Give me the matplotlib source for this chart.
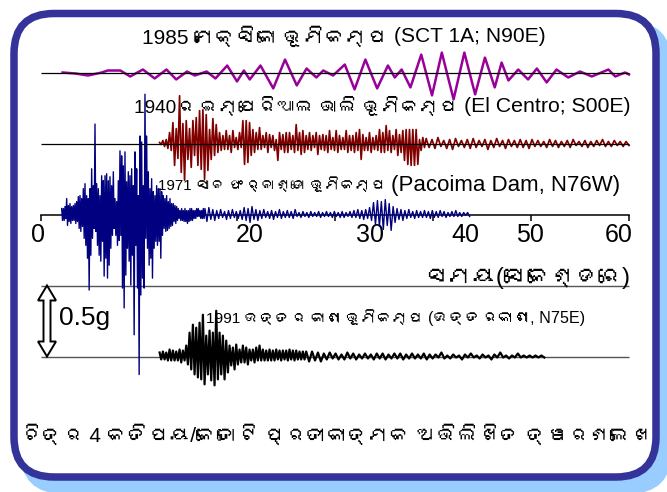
import numpy as np
import matplotlib
matplotlib.use("Agg")
import matplotlib.pyplot as plt
from matplotlib.patches import FancyBboxPatch, Polygon
from matplotlib import font_manager
from matplotlib.ft2font import FT2Font

# ---------------- data (accelerations in milli-g, times in s) ----------------
mexico_t = [2.2, 3.5, 4.8, 6.2, 6.8, 8.1, 9.1, 10.4, 11.6, 12.8, 13.8, 14.9, 15.7, 16.9,
            17.8, 19.0, 20.0, 20.7, 21.3, 22.4, 23.7, 24.9, 26.1, 27.1, 28.1, 28.8, 29.8,
            31.0, 32.0, 33.1, 34.3, 35.4, 36.1, 36.8, 37.7, 38.8, 39.9, 40.9, 42.1, 43.2,
            44.3, 45.3, 46.3, 47.0, 47.7, 48.7, 49.7, 50.6, 51.6, 52.6, 53.8, 55.0, 56.2,
            57.9, 58.6, 59.6, 60.0]
mexico_mg = [0, -7, -21, 0, 14, 14, -28, 21, -42, 21, -49, 7, -21, 7, -42, 49, -63, 14,
             -49, 49, -112, 91, -91, 28, -35, 14, -21, 56, -119, 91, -112, 49, -35, 21,
             -105, 126, -161, 140, -189, 140, -154, 105, -105, 70, -56, 21, -49, 28, -70,
             21, -35, 7, -28, 21, -28, 0, -14]

elcentro_t0 = 12.1
elcentro_dt = [0.17, 0.3]
elcentro_strong_mg = [
    7, -7, 21, -21, 28, -35, 77, -49, 147, -154, 105, -105, 336, -203, 140, -259,
    161, -112, 105, -168, 161, -84, 182, -154, 231, -182, 238, -252, 203, -189, 98, -112,
    175, -84, 133, -63, 77, -49, 56, -42, 91, -42, 56, -63, 91, -28, 42, -42,
    77, -28, 161, -147, 161, -133, 147, -84, 98, -63, 77, -42, 112, -42, 56, -28,
    77, -63, 63, -28, 56, -49, 28, -119, 77, -42, 63, -63, 77, -63, 77, -42,
    56, -63, 133, -49, 77, -77, 91, -63, 56, -42, 77, -49, 56, -28, 77, -77,
    56, -42, 63, -49, 56, -63, 91, -42, 42, -49, 91, -63, 56, -42, 42, -42,
    91, -63, 56, -49, 56, -63, 77, -49, 98, -112, 63, -49, 42, -49, 77, -63,
    42, -42, 56, -49, 98, -63, 77, -63, 126, -49, 91, -63, 56, -42,
    98, -84, 63, -63, 91, -119, 98, -147, 98, -154, 98, -154, 98, -147, 28, -49, 42, -28]
elcentro_tail_mg = [
    35, -28, 28, -35, 42, -21, 21, -35, 28, -42, 35, -21, 21, -28, 28, -35, 35, -28, 21, -21,
    28, -42, 21, -28, 35, -21, 21, -35, 28, -21, 21, -28, 28, -28, 21, -35, 28, -21, 21, -21,
    14, -28, 28, -21, 21, -28, 14, -21, 21, -28, 28, -14, 14, -21, 21, -28, 14, -21, 21, -14,
    28, -21, 14, -21, 21, -14, 14, -21, 14, -14]

pacoima_t0 = 2.11
pacoima_dt = [0.085, 0.2]
pacoima_strong_mg = [
    42, -42, 42, -42, 56, -28, 112, -77, 63, -49, 77, -63, 56, -42, 63, -42, 77, -63, 91, -49,
    126, -98, 133, -119, 112, -84, 182, -168, 217, -217, 133, -308, 112, -532, 182, -287,
    322, -168, 203, -98, 637, -119, 217, -217, 182, -287, 133, -329, 273, -189, 238, -434,
    273, -308, 287, -448, 238, -357, 266, -238, 203, -147, 301, -98, 112, -147, 91, -217,
    238, -182, 448, -147, 413, -518, 343, -658, 441, -427, 231, -238, 301, -329, 273, -497,
    322, -287, 203, -847, 441, -217, 322, -518, 133, -1127, 553, -567, 511, -448, 203, -518,
    847, -168, 553, -238, 301, -357, 182, -308, 252, -448, 161, -238, 133, -189, 203, -217,
    182, -189, 182, -308, 161, -147, 133, -98, 112, -119, 133, -112, 91, -98, 112, -84,
    77, -77, 77, -49, 63, -63, 56, -42, 42, -28, 28, -42, 42, -42, 28, -49, 42, -49, 28, -63,
    28, -49, 42, -42, 42, -42, 28, -28, 28, -28, 42, -14, 42, -14, 28, -28, 28, -28, 42, -28]
pacoima_tail_mg = [
    42, -49, 49, -35, 35, -42, 28, -28, 35, -21, 21, -35, 28, -28, 35, -21, 21, -28, 28, -35,
    49, -42, 42, -56, 56, -35, 35, -42, 28, -28, 35, -21, 21, -28, 28, -35, 21, -21, 35, -28,
    21, -21, 28, -21, 21, -28, 35, -14, 14, -21, 21, -14, 14, -21, 21, -14, 14, -14, 21, -21,
    14, -14, 21, -14, 14, -21, 21, -14, 14, -21, 21, -21, 14, -14, 21, -21, 28, -21, 35, -28,
    28, -35, 35, -28, 49, -42, 84, -70, 98, -84, 91, -105, 105, -77, 77, -112, 56, -56, 42, -35,
    35, -42, 28, -28, 35, -21, 21, -28, 28, -21, 21, -21, 28, -21, 21, -28, 28, -21, 21, -21,
    28, -14, 21, -21, 14, -14, 21, -14, 28, -14, 14, -14, 14, -7, 14, -14]

uttarkashi_t0 = 12.1
uttarkashi_dt = [0.17, 0.3]
uttarkashi_strong_mg = [
    28, -21, 35, -21, 28, -28, 49, -28, 42, -28, 35, -28, 49, -42, 42, -28, 77, -56, 168, -91,
    224, -126, 203, -147, 238, -161, 294, -196, 147, -126, 182, -168, 168, -203, 322, -161,
    168, -126, 147, -161, 112, -112, 77, -63, 63, -91, 84, -56, 49, -42, 77, -42, 63, -56,
    49, -28, 49, -42, 63, -28, 77, -28, 49, -28, 42, -28, 49, -28, 42, -28, 49, -21, 42, -28,
    42, -21, 42, -28, 49, -21, 42, -28, 42, -21, 35, -21, 35, -21]
uttarkashi_tail_mg = [
    35, -35, 35, -28, 28, -35, 21, -21, 28, -14, 21, -21, 14, -21, 28, -14, 21, -21, 14, -14,
    21, -14, 14, -21, 21, -14, 21, -21, 14, -14, 21, -14, 21, -21, 14, -14, 21, -14, 14, -14,
    21, -21, 14, -14, 14, -7, 28, -14, 7, -14, 14, -7, 7, -21, 14, -7, 21, -7, 7, -14,
    14, -7, 7, -21, 14, -7, 28, -7, 7, -14, 7, -7, 21, -7, 7, -7, 7, -7, 7, -7, 7, -7]

xtick_labels = ["0", "20", "30", "40", "50", "60"]
scale_bar_g = 0.5

label_mexico = ["1985 ମେକ୍ସିକୋ ଭୂମିକମ୍ପ", "(SCT 1A; N90E)"]
label_elcentro = ["1940ର ଇମ୍ପେରିଆଲ ଭାଲି ଭୂମିକମ୍ପ", "(El Centro; S00E)"]
label_pacoima = ["1971 ସାନ ଫର୍ନାଣ୍ଡୋ ଭୂମିକମ୍ପ", "(Pacoima Dam, N76W)"]
label_uttarkashi = ["1991 ଉତ୍ତର କାଶୀ ଭୂମିକମ୍ପ", "(ଉତ୍ତରକାଶୀ, N75E)"]
label_time = "ସମୟ(ସେକେଣ୍ଡରେ)"
label_scale = "0.5g"
caption = "ଚିତ୍ର 4 କତିପୟ/କେତୋଟି ପ୍ରତୀକାତ୍ମକ ଅଭିଲିଖିତ ତ୍ୱରଣଲେଖ"


# ---------------- fonts ----------------
def find_odia_font():
    for f in font_manager.fontManager.ttflist:
        try:
            if 0x0B2E in FT2Font(f.fname).get_charmap():
                return f.name
        except Exception:
            pass
    return None


odia = find_odia_font()
families = ["Liberation Sans"] + ([odia] if odia else []) + ["DejaVu Sans"]
plt.rcParams["font.family"] = families


def build(t0, dts, segs):
    t, v = [], []
    cur = t0
    for dt, seg in zip(dts, segs):
        for val in seg:
            t.append(cur)
            v.append(val / 1000.0)
            cur += dt
    return np.array(t), np.array(v)


elc_t, elc_v = build(elcentro_t0, elcentro_dt, [elcentro_strong_mg, elcentro_tail_mg])
pac_t, pac_v = build(pacoima_t0, pacoima_dt, [pacoima_strong_mg, pacoima_tail_mg])
utt_t, utt_v = build(uttarkashi_t0, uttarkashi_dt, [uttarkashi_strong_mg, uttarkashi_tail_mg])
mex_t = np.array(mexico_t)
mex_v = np.array(mexico_mg) / 1000.0

# ---------------- figure ----------------
W, H = 667, 492
fig = plt.figure(figsize=(W / 100, H / 100), dpi=100)
renderer = fig.canvas.get_renderer()

bg = fig.add_axes([0, 0, 1, 1])
bg.set_xlim(0, W)
bg.set_ylim(H, 0)
bg.axis("off")
shadow = FancyBboxPatch((20, 21), 652, 473, boxstyle="round,pad=0,rounding_size=44",
                        facecolor="#99ccff", edgecolor="none", zorder=0)
frame = FancyBboxPatch((14, 13.5), 642, 463.5, boxstyle="round,pad=0,rounding_size=40",
                       facecolor="white", edgecolor="#333399", linewidth=5.4, zorder=1)
bg.add_patch(shadow)
bg.add_patch(frame)

# data axes: 9.8 px per second, 142 px per g
X0PX, PXS = 41.0, 9.8
Y0PX, PXG = 214.5, 142.0
ax = fig.add_axes([0, 0, 1, 1])
ax.patch.set_visible(False)
ax.set_xlim(-X0PX / PXS, (W - X0PX) / PXS)
ax.set_ylim((Y0PX - H) / PXG, Y0PX / PXG)


def px2x(px):
    return (px - X0PX) / PXS


def py2y(py):
    return (Y0PX - py) / PXG


MEX_OFF, ELC_OFF, PAC_OFF, UTT_OFF = 1.0, 0.5, 0.0, -1.0

for sp in ["top", "right", "left"]:
    ax.spines[sp].set_visible(False)
ax.spines["bottom"].set_position(("data", PAC_OFF))
ax.spines["bottom"].set_bounds(0, 60)
ax.spines["bottom"].set_linewidth(1.1)
ax.set_yticks([])
label_pos = [-0.3, 21.3, 33.6, 43.3, 49.9, 58.9]
ax.set_xticks(label_pos)
ax.set_xticklabels(xtick_labels)
ax.set_xticks(np.arange(0, 61, 10), minor=True)
ax.tick_params(axis="x", which="major", length=0, pad=6.0, labelsize=18)
ax.tick_params(axis="x", which="minor", length=4.3, width=1.1, direction="out")

# gray reference lines for the bottom record / scale
ax.hlines([UTT_OFF + scale_bar_g, UTT_OFF], 0, 60, colors="#555555", linewidth=1.0, zorder=1)

# traces
ax.plot(mex_t, MEX_OFF + mex_v, color="#990099", linewidth=1.8, zorder=3)
ax.plot(elc_t, ELC_OFF + elc_v, color="#800000", linewidth=1.25, zorder=3)
ax.plot(pac_t, PAC_OFF + pac_v, color="#000080", linewidth=1.0, zorder=3)
ax.plot(utt_t, UTT_OFF + utt_v, color="black", linewidth=1.6, zorder=3)

# black baselines on top of upper two records
ax.hlines([MEX_OFF, ELC_OFF], 0, 60, colors="black", linewidth=0.9, zorder=4)


def fit_text(s, left_px, right_px, cy_px, max_size, anchor="left", stretch=1.0):
    """Place text anchored at one end of a reference span, shrinking the font so its
    width stays within stretch * span."""
    x = left_px if anchor == "left" else right_px
    t = ax.text(px2x(x), py2y(cy_px), s, fontsize=max_size, ha=anchor,
                va="center", zorder=5)
    target = (right_px - left_px) * stretch
    for _ in range(3):
        w = t.get_window_extent(renderer).width
        if w <= target * 1.01:
            break
        t.set_fontsize(t.get_fontsize() * target / w)
    return t


# labels (pixel spans)
fit_text(label_mexico[0], 208, 388, 37, 15, anchor="right", stretch=1.4)
fit_text(label_mexico[1], 394, 545, 37, 15.5)
fit_text(label_elcentro[0], 208, 458, 106, 15, anchor="right", stretch=1.3)
fit_text(label_elcentro[1], 464, 630, 106, 15.5)
fit_text(label_pacoima[0], 174, 386, 185, 15, anchor="right", stretch=1.08)
fit_text(label_pacoima[1], 391, 623, 185, 16)
fit_text(label_uttarkashi[0], 225, 423, 318, 14, anchor="right", stretch=1.1)
fit_text(label_uttarkashi[1], 428, 585, 318, 14)
fit_text(label_time, 453, 630, 278, 17, anchor="right", stretch=1.15)
fit_text(caption, 21, 651, 435, 24)
ax.text(px2x(85), py2y(318), label_scale, fontsize=19, ha="center", va="center", zorder=5)

# hollow double arrow for the 0.5 g scale
xa = px2x(47)
hw = 9 / PXS      # half head width
sw = 3.5 / PXS    # half shaft width
hl = 15 / PXG     # head length
y_lo, y_hi = UTT_OFF, UTT_OFF + scale_bar_g
arrow = Polygon([
    (xa, y_hi), (xa + hw, y_hi - hl), (xa + sw, y_hi - hl), (xa + sw, y_lo + hl),
    (xa + hw, y_lo + hl), (xa, y_lo), (xa - hw, y_lo + hl), (xa - sw, y_lo + hl),
    (xa - sw, y_hi - hl), (xa - hw, y_hi - hl)],
    closed=True, facecolor="white", edgecolor="black", linewidth=1.4, zorder=5)
ax.add_patch(arrow)

fig.savefig("out.png", dpi=100)
